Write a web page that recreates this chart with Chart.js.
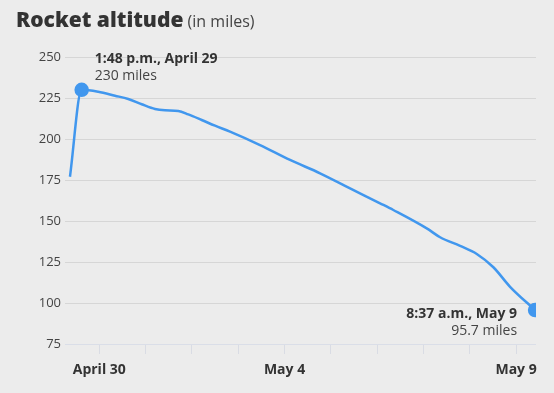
<!DOCTYPE html>
<html>
<head>
<meta charset="utf-8">
<script src="https://cdn.jsdelivr.net/npm/chart.js@4.4.1/dist/chart.umd.min.js"></script>
<style>
  html, body { margin: 0; padding: 0; background: #ececec; }
  #wrap { position: relative; width: 554px; height: 393px; overflow: hidden; }
  #title { position: absolute; left: 16px; top: 5px; font-family: "Open Sans", sans-serif; color: #333; white-space: nowrap; }
  #title b { font-size: 21px; font-weight: 800; }
  #title span { font-size: 16px; color: #444; }
  #myChart { position: absolute; left: 0; top: 0; }
</style>
</head>
<body>
<div id="wrap">
  <canvas id="myChart" width="554" height="393"></canvas>
  <div id="title"><b>Rocket altitude</b> <span>(in miles)</span></div>
</div>
<script>
// days since April 29, 00:00 (April 30 = 1)
let dias = [0.367, 0.62, 0.978, 1.339, 1.626, 1.916, 2.203, 2.419, 2.706, 2.922, 3.212, 3.499,
            3.823, 4.471, 5.119, 5.767, 6.415, 7.063, 7.35, 8.071, 8.359, 8.791, 9.151, 9.51, 9.87, 10.41];
let millas = [177, 230, 228.8, 226.4, 224.4, 221.2, 218.3, 217.5, 217.1, 215, 211.6, 208.1,
              204.5, 196.3, 187.2, 179.1, 169.9, 160.8, 156.7, 145.5, 140.1, 134.8, 129.9, 121.8, 109.9, 95.7];

let diasTicks = [1, 2, 3, 4, 5, 6, 7, 8, 9, 10];
let etiquetasDias = ["April 30", "", "", "", "May 4", "", "", "", "", "May 9"];
let yTicks = [75, 100, 125, 150, 175, 200, 225, 250];

let picoIdx = 1;
let finIdx = millas.length - 1;
let notas = [
  { idx: picoIdx, titulo: "1:48 p.m., April 29", texto: "230 miles", dx: 13, dy: -31, align: "left" },
  { idx: finIdx, titulo: "8:37 a.m., May 9", texto: "95.7 miles", dx: -18, dy: 4, align: "right" }
];

let puntos = dias.map((d, i) => ({ x: d, y: millas[i] }));

let notasPlugin = {
  id: "notas",
  afterDatasetsDraw(chart) {
    let ctx = chart.ctx;
    let meta = chart.getDatasetMeta(0);
    ctx.save();
    ctx.textBaseline = "middle";
    notas.forEach(n => {
      let p = meta.data[n.idx];
      ctx.textAlign = n.align;
      ctx.fillStyle = "#333";
      ctx.font = "bold 14px 'Open Sans'";
      ctx.fillText(n.titulo, p.x + n.dx, p.y + n.dy);
      ctx.fillStyle = "#444";
      ctx.font = "14px 'Open Sans'";
      ctx.fillText(n.texto, p.x + n.dx, p.y + n.dy + 17);
    });
    ctx.restore();
  }
};

let altChart = new Chart("myChart", {
  type: "line",
  data: {
    datasets: [{
      data: puntos,
      borderColor: "#4197ee",
      borderWidth: 2.5,
      backgroundColor: "#4197ee",
      pointRadius: ctx => (ctx.dataIndex === picoIdx || ctx.dataIndex === finIdx) ? 6 : 0,
      pointHoverRadius: 0,
      cubicInterpolationMode: "monotone",
      fill: false
    }]
  },
  options: {
    responsive: false,
    animation: false,
    layout: { padding: { top: 57, right: 18, left: 0, bottom: 0 } },
    plugins: {
      legend: { display: false },
      tooltip: { enabled: false }
    },
    scales: {
      x: {
        type: "linear",
        min: 0.26,
        max: 10.43,
        afterBuildTicks: scale => { scale.ticks = diasTicks.map(v => ({ value: v })); },
        afterFit: scale => { scale.height = 49; },
        grid: { drawOnChartArea: false, drawTicks: true, tickLength: 10, color: "#d9dce4" },
        border: { display: false },
        ticks: {
          autoSkip: false,
          maxRotation: 0,
          padding: 8,
          color: "#333",
          font: { family: "Open Sans", size: 14, weight: "bold" },
          callback: (v, i) => etiquetasDias[i]
        }
      },
      y: {
        min: 75,
        max: 250,
        afterBuildTicks: scale => { scale.ticks = yTicks.map(v => ({ value: v })); },
        afterFit: scale => { scale.width = 65; },
        grid: {
          drawTicks: false,
          color: c => c.tick && c.tick.value === 75 ? "#dadee8" : "#d6d6d6"
        },
        border: { display: false },
        ticks: {
          padding: 4,
          color: "#444",
          font: { family: "Open Sans", size: 13 }
        }
      }
    }
  },
  plugins: [notasPlugin]
});
</script>
</body>
</html>
